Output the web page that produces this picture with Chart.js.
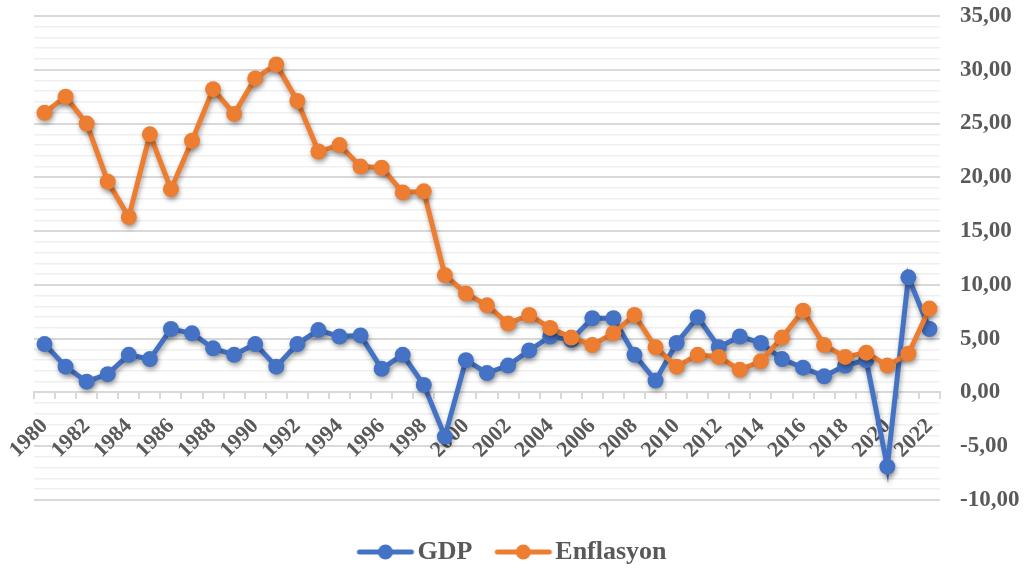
<!DOCTYPE html>
<html>
<head>
<meta charset="utf-8">
<script src="https://cdn.jsdelivr.net/npm/chart.js@4.4.1/dist/chart.umd.min.js"></script>
<style>
  html, body { margin: 0; padding: 0; background: #ffffff; }
  #wrap { width: 1024px; height: 572px; position: relative; }
</style>
</head>
<body>
<div id="wrap"><canvas id="c" width="1024" height="572"></canvas></div>
<script>
const years = [1980,1981,1982,1983,1984,1985,1986,1987,1988,1989,1990,1991,1992,1993,1994,1995,1996,1997,1998,1999,2000,2001,2002,2003,2004,2005,2006,2007,2008,2009,2010,2011,2012,2013,2014,2015,2016,2017,2018,2019,2020,2021,2022].map(String);
const gdp = [4.5,2.4,1.0,1.7,3.5,3.1,5.9,5.5,4.1,3.5,4.5,2.4,4.5,5.8,5.2,5.3,2.2,3.5,0.7,-4.1,3.0,1.8,2.5,3.9,5.2,4.9,6.9,6.9,3.5,1.1,4.6,7.0,4.2,5.2,4.6,3.1,2.3,1.5,2.5,3.0,-6.9,10.7,5.9];
const enflasyon = [26.0,27.5,25.0,19.6,16.3,24.0,18.9,23.4,28.2,25.9,29.2,30.5,27.1,22.4,23.0,21.0,20.9,18.6,18.7,10.9,9.2,8.1,6.4,7.2,6.0,5.1,4.4,5.5,7.2,4.2,2.4,3.5,3.3,2.1,2.9,5.1,7.6,4.4,3.3,3.7,2.5,3.6,7.8];
const seriesNames = ['GDP', 'Enflasyon'];
const yMin = -10, yMax = 35;

const BLUE = '#4472C4', ORANGE = '#ED7D31', TXT = '#595959';
const FONT = '"Liberation Serif", "Times New Roman", Tinos, serif';

function legendIcon(color) {
  const cv = document.createElement('canvas');
  cv.width = 60; cv.height = 18;
  const g = cv.getContext('2d');
  g.strokeStyle = color; g.lineWidth = 5; g.lineCap = 'round';
  g.beginPath(); g.moveTo(4, 9); g.lineTo(56, 9); g.stroke();
  g.fillStyle = color; g.beginPath(); g.arc(30, 9, 7.5, 0, Math.PI * 2); g.fill();
  return cv;
}
const icons = [legendIcon(BLUE), legendIcon(ORANGE)];

const shadowPlugin = {
  id: 'shadow',
  beforeDatasetDraw(chart) {
    const ctx = chart.ctx;
    ctx.save();
    ctx.shadowColor = 'rgba(0,0,0,0.35)';
    ctx.shadowBlur = 5;
    ctx.shadowOffsetX = 1;
    ctx.shadowOffsetY = 3;
  },
  afterDatasetDraw(chart) { chart.ctx.restore(); }
};

const legendShift = {
  id: 'legendShift',
  afterLayout(chart) {
    if (chart.legend) { chart.legend.left -= 20; chart.legend.right -= 20; }
  }
};

new Chart(document.getElementById('c'), {
  type: 'line',
  data: {
    labels: years,
    datasets: [
      { label: seriesNames[0], data: gdp, borderColor: BLUE, backgroundColor: BLUE,
        borderWidth: 5, pointRadius: 8, pointHoverRadius: 8, pointBackgroundColor: BLUE,
        pointBorderWidth: 0, tension: 0, order: 1 },
      { label: seriesNames[1], data: enflasyon, borderColor: ORANGE, backgroundColor: ORANGE,
        borderWidth: 5, pointRadius: 8, pointHoverRadius: 8, pointBackgroundColor: ORANGE,
        pointBorderWidth: 0, tension: 0, order: 0 }
    ]
  },
  options: {
    responsive: false,
    animation: false,
    devicePixelRatio: 1,
    layout: { padding: { left: 34, right: -15, top: 16, bottom: -3 } },
    plugins: {
      tooltip: { enabled: false },
      legend: {
        position: 'bottom',
        title: { display: true, text: '', font: { size: 7, lineHeight: 1 }, padding: 0 },
        labels: {
          usePointStyle: true,
          pointStyleWidth: 38,
          padding: 32,
          color: TXT,
          font: { family: FONT, size: 26, weight: 700 },
          sort: (a, b) => a.datasetIndex - b.datasetIndex,
          generateLabels(chart) {
            const items = Chart.defaults.plugins.legend.labels.generateLabels(chart);
            items.forEach(it => { it.pointStyle = icons[it.datasetIndex]; });
            return items;
          }
        }
      }
    },
    scales: {
      x: {
        type: 'category',
        position: { y: 0 },
        offset: true,
        afterFit: (s) => { s.paddingTop = 0; s.paddingBottom = 0; s.paddingLeft = 0; s.paddingRight = 0; },
        grid: { display: true, drawOnChartArea: false, drawTicks: true, tickLength: 6,
                offset: true, color: '#d9d9d9', lineWidth: 2 },
        border: { display: true, color: '#d9d9d9', width: 2 },
        ticks: {
          autoSkip: false, maxRotation: 45, minRotation: 45, padding: 15,
          color: TXT, font: { family: FONT, size: 22, weight: 700 },
          callback: function (val, i) { return i % 2 === 0 ? years[i] : ''; }
        }
      },
      y: {
        position: 'right',
        min: yMin, max: yMax,
        afterFit: (s) => { s.width = 99; s.paddingTop = 0; s.paddingBottom = 0; },
        grid: {
          drawTicks: false,
          color: (c) => (c.tick && Math.round(c.tick.value) % 5 === 0) ? '#d9d9d9' : '#efefef',
          lineWidth: (c) => (c.tick && Math.round(c.tick.value) % 5 === 0) ? 2 : 1.6
        },
        border: { display: false },
        ticks: {
          stepSize: 1, autoSkip: false, padding: 20,
          color: TXT, font: { family: FONT, size: 23, weight: 700 },
          callback: function (v) { return (Math.round(v) % 5 === 0) ? Number(v).toFixed(2).replace('.', ',') : ''; }
        }
      }
    }
  },
  plugins: [shadowPlugin, legendShift]
});
</script>
</body>
</html>
